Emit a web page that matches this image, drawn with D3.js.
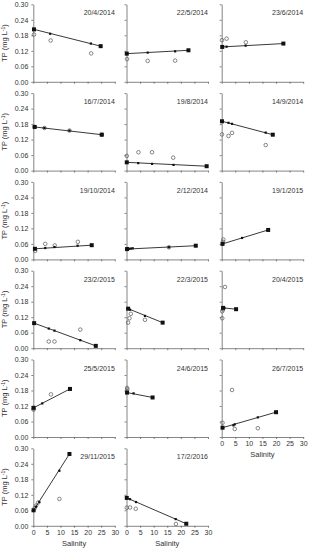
<!DOCTYPE html>
<html><head><meta charset="utf-8">
<script src="https://cdn.jsdelivr.net/npm/d3@7"></script>
<style>body{margin:0;background:#fff}svg{display:block}text{font-family:"Liberation Sans",Arial,sans-serif}</style>
</head><body><svg id="c" width="313" height="550"></svg>
<script>
// ---- data ----
const panelDates = ["20/4/2014","22/5/2014","23/6/2014","16/7/2014","19/8/2014","14/9/2014",
  "19/10/2014","2/12/2014","19/1/2015","23/2/2015","22/3/2015","20/4/2015",
  "25/5/2015","24/6/2015","26/7/2015","29/11/2015","17/2/2016"];
// conservative mixing line: salinity and TP (first & last = end-members)
const lineSalinity = [
  [0.25,6.2,21.2,24.8],[0.1,7.8,17.9,22.8],[0.2,1.8,8.8,22.7],
  [0.5,4.1,13.3,25.2],[0.1,4.3,9.4,17.3,29.5],[0.1,2.5,3.8,16.2,18.8],
  [0.6,4.4,7.8,16.3,21.5],[0.2,0.9,1.6,2.3,15.6,25.5],[0.3,7.5,17.1],
  [0.3,5.7,7.8,17.3,23.0],[0.6,1.3,6.8,13.3],[0.5,1.0,5.3],
  [0.1,3.3,13.5],[0.2,2.6,9.6],[0.3,4.3,4.8,13.3,20.0],
  [0.1,1.0,2.2,9.6,13.3],[0.1,1.3,3.5,18.1,22.0]];
const lineTP = [
  [0.203,0.186,0.148,0.138],[0.109,0.113,0.118,0.122],[0.135,0.136,0.140,0.148],
  [0.169,0.165,0.155,0.139],[0.032,0.029,0.026,0.022,0.017],[0.191,0.185,0.181,0.147,0.139],
  [0.041,0.044,0.048,0.053,0.055],[0.040,0.041,0.042,0.043,0.047,0.053],[0.060,0.083,0.114],
  [0.097,0.076,0.068,0.031,0.009],[0.153,0.149,0.125,0.099],[0.156,0.156,0.151],
  [0.113,0.130,0.186],[0.172,0.169,0.153],[0.036,0.045,0.049,0.076,0.096],
  [0.060,0.074,0.092,0.213,0.278],[0.108,0.103,0.092,0.026,0.008]];
// measured TP (open circles)
const obsSalinity = [
  [0.25,6.4,21.3],[0.2,7.8,17.9],[0.1,1.8,8.9],
  [0.5,4.1,13.3,25.2],[0.1,4.4,9.4,17.2],[0.1,2.5,3.8,16.2],
  [0.7,4.4,7.9,16.4],[0.2,15.6],[0.5,0.6],
  [5.7,7.8,17.3],[0.6,1.1,1.6,6.8],[0.2,0.2,1.2,0.5],
  [0.1,0.1,6.5],[0.2,0.3],[0.3,3.8,4.8,13.3],
  [0.5,1.0,1.8,9.6],[0.1,1.3,3.4,18.2]];
const obsTP = [
  [0.183,0.160,0.110],[0.088,0.081,0.082],[0.161,0.167,0.153],
  [0.169,0.165,0.155,0.139],[0.057,0.071,0.071,0.050],[0.140,0.134,0.146,0.099],
  [0.033,0.060,0.054,0.068],[0.040,0.047],[0.068,0.077],
  [0.026,0.026,0.072],[0.099,0.116,0.133,0.110],[0.143,0.116,0.237,0.150],
  [0.110,0.106,0.165],[0.190,0.184],[0.055,0.182,0.031,0.034],
  [0.068,0.078,0.090,0.104],[0.070,0.071,0.066,0.007]];
const yTicks = [0,0.06,0.12,0.18,0.24,0.30];
const xTicks = [0,5,10,15,20,25,30];

// ---- layout ----
const svg = d3.select("#c");
const colX = [33.3,126.5,221.7], pw = 81.5, ph = 77.5;
const rowY = i => 4.3 + i*88.8;
const txt = "#333", axc = "#666";

panelDates.forEach((d,i)=>{
  const r = Math.floor(i/3), c = i%3;
  const g = svg.append("g").attr("transform",`translate(${colX[c]},${rowY(r)})`);
  const x = d3.scaleLinear().domain([0,30]).range([0,pw]);
  const y = d3.scaleLinear().domain([0,0.30]).range([ph,0]);
  const showX = (r===5) || (c===2 && r===4);
  const ya = d3.axisLeft(y).tickValues(yTicks).tickSize(2).tickSizeOuter(0).tickPadding(3)
      .tickFormat(c===0 ? d3.format(".2f") : "");
  const xa = d3.axisBottom(x).tickValues(xTicks).tickSize(2).tickSizeOuter(0).tickPadding(2)
      .tickFormat(showX ? d3.format("d") : "");
  const gy = g.append("g").call(ya);
  const gx = g.append("g").attr("transform",`translate(0,${ph})`).call(xa);
  [gy,gx].forEach(a=>{
    a.selectAll("path,line").attr("stroke",axc).attr("stroke-width",0.8);
    a.selectAll("text").attr("fill",txt).style("font-size","7px").style("font-family","'Liberation Sans',Arial,sans-serif");
  });
  if (showX) {
    g.append("text").attr("x",pw/2).attr("y",ph+20).attr("text-anchor","middle")
      .attr("fill",txt).style("font-size","7.5px").text("Salinity");
  }
  if (c===0) {
    const t = g.append("text").attr("transform",`translate(${-26},${ph/2}) rotate(-90)`)
      .attr("text-anchor","middle").attr("fill",txt).style("font-size","7.5px");
    t.append("tspan").text("TP (mg L");
    t.append("tspan").attr("dy",-2.5).style("font-size","5px").text("-1");
    t.append("tspan").attr("dy",2.5).text(")");
  }
  g.append("text").attr("x",pw).attr("y",11).attr("text-anchor","end")
    .attr("fill",txt).style("font-size","7px").text(d);

  // open circles
  g.selectAll("circle.o").data(obsSalinity[i].map((s,k)=>[s,obsTP[i][k]])).join("circle")
    .attr("cx",p=>x(p[0])).attr("cy",p=>y(p[1])).attr("r",1.8)
    .attr("fill","none").attr("stroke","#555").attr("stroke-width",0.7);
  // mixing line
  const pts = lineSalinity[i].map((s,k)=>[s,lineTP[i][k]]);
  g.append("path").attr("d",d3.line().x(p=>x(p[0])).y(p=>y(p[1]))([pts[0],pts[pts.length-1]]))
    .attr("stroke","#222").attr("stroke-width",0.9).attr("fill","none");
  g.selectAll("rect.m").data(pts).join("rect")
    .attr("x",(p,k)=>x(p[0]) - ((k===0||k===pts.length-1)?2:1.1))
    .attr("y",(p,k)=>y(p[1]) - ((k===0||k===pts.length-1)?2:1.1))
    .attr("width",(p,k)=>(k===0||k===pts.length-1)?4:2.2)
    .attr("height",(p,k)=>(k===0||k===pts.length-1)?4:2.2)
    .attr("fill","#111");
});
</script></body></html>
